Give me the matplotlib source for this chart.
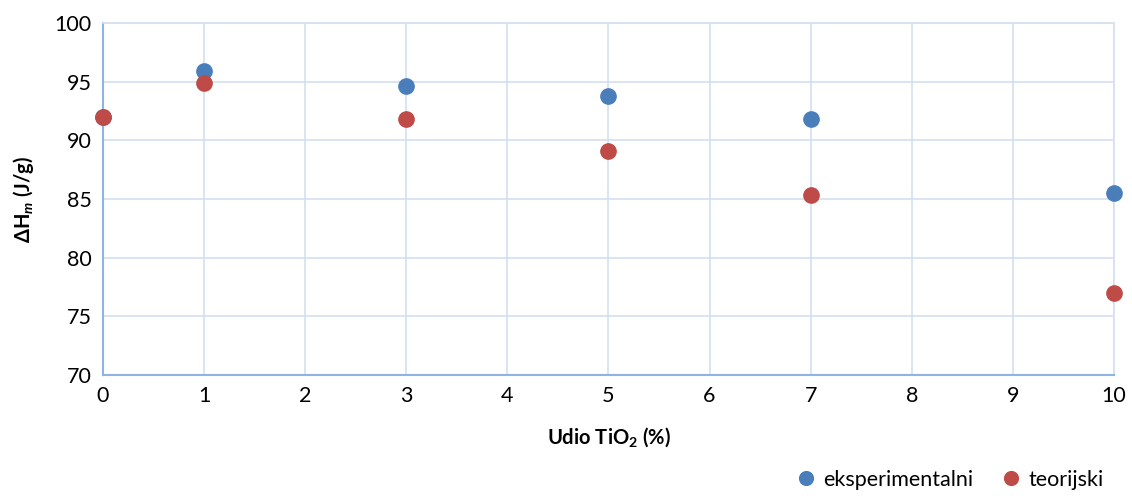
import matplotlib
matplotlib.use("Agg")
import matplotlib.pyplot as plt

x_vals = [0, 1, 3, 5, 7, 10]
eksperimentalni = [92.0, 95.9, 94.6, 93.8, 91.8, 85.5]
teorijski = [92.0, 94.9, 91.8, 89.1, 85.3, 77.0]
x_ticks = list(range(0, 11))
y_ticks = [70, 75, 80, 85, 90, 95, 100]

plt.rcParams['font.family'] = ['Lato', 'DejaVu Sans']
plt.rcParams['mathtext.fontset'] = 'custom'
plt.rcParams['mathtext.rm'] = 'Lato'
plt.rcParams['mathtext.it'] = 'Lato:italic'
plt.rcParams['mathtext.bf'] = 'Lato:bold'
plt.rcParams['mathtext.bfit'] = 'Lato:bold:italic'

fig = plt.figure(figsize=(11.32, 4.99), dpi=100)
ax = fig.add_axes([0.091, 0.2485, 0.893, 0.7055])

grid_c = '#d3e0f1'
ax.set_xlim(0, 10)
ax.set_ylim(70, 100)
ax.set_xticks(x_ticks)
ax.set_yticks(y_ticks)
ax.grid(True, color=grid_c, linewidth=1.2)
ax.set_axisbelow(True)
for s in ['top', 'right']:
    ax.spines[s].set_color(grid_c)
    ax.spines[s].set_linewidth(1.2)
for s in ['left', 'bottom']:
    ax.spines[s].set_color('#8eb4e3')
    ax.spines[s].set_linewidth(1.5)
ax.tick_params(length=0, labelsize=15.5, pad=8)

ax.plot(x_vals, eksperimentalni, 'o', color='#4a7ebb', markersize=11, label='eksperimentalni', clip_on=False, zorder=3)
ax.plot(x_vals, teorijski, 'o', color='#be4b48', markersize=11, label='teorijski', clip_on=False, zorder=4)

ax.set_xlabel('Udio TiO$_\\mathbf{2}$ (%)', fontsize=14.5, fontweight='bold', labelpad=14)
ax.set_ylabel('ΔH$_{\\mathbfit{m}}$ (J/g)', fontsize=14.5, fontweight='bold')
ax.yaxis.set_label_coords(-0.066, 0.5)

fig.legend(loc='lower right', bbox_to_anchor=(0.992, -0.02), ncol=2, frameon=False,
           fontsize=15.5, handlelength=0.9, handletextpad=0.35, columnspacing=1.3,
           markerscale=0.9)

fig.savefig('out.png', dpi=100)
